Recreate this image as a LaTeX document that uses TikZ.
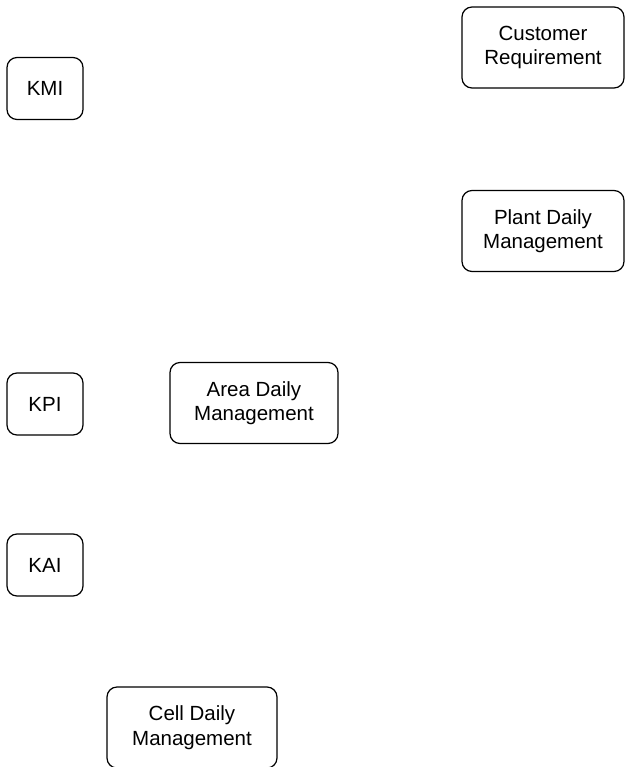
\documentclass[tikz,border=0pt]{standalone}
\usepackage{fontspec}
\setmainfont{Liberation Sans}
\usepackage{tikz}
\usetikzlibrary{positioning}

\tikzset{
    box/.style={draw, line width=1.2pt, rounded corners=10pt, align=center,
        font=\fontsize{20.5}{24.5}\selectfont, inner sep=0pt},
    smallbox/.style={box, minimum width=76pt, minimum height=62pt},
    bigbox/.style={box, minimum width=166pt, minimum height=81pt}
}

\begin{document}
\begin{tikzpicture}[x=1pt, y=-1pt]
    \useasboundingbox (0,0) rectangle (625,767);
    % key indicators
    \node[smallbox] (kmi) at (45,88.5) {KMI};
    \node[smallbox] (kpi) at (45,404) {KPI};
    \node[smallbox] (kai) at (45,565) {KAI};
    % management levels
    \node[bigbox, minimum width=162pt] (custreq) at (543,47.5) {Customer\\Requirement};
    \node[bigbox, minimum width=162pt] (plantdm) at (543,231) {Plant Daily\\Management};
    \node[bigbox, minimum width=168pt] (areadm) at (254,403) {Area Daily\\Management};
    \node[bigbox, minimum width=170pt] (celldm) at (192,727.5) {Cell Daily\\Management};
\end{tikzpicture}
\end{document}
